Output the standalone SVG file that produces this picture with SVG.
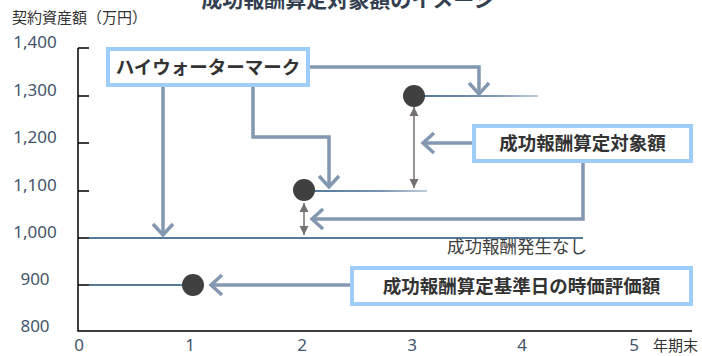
<svg xmlns="http://www.w3.org/2000/svg" width="702" height="356" viewBox="0 0 702 356">
<style>
.jp{font-family:"Noto Sans CJK JP","Noto Sans",sans-serif}
.num{font-family:"Noto Sans","Liberation Sans",sans-serif;font-size:17px;fill:#44546a;text-anchor:middle}
.box{fill:#fff;stroke:#9fcdfa;stroke-width:4}
.boxt{font-family:"Noto Sans CJK JP",sans-serif;font-size:18.5px;font-weight:bold;fill:#333;text-anchor:middle}
.conn{fill:none;stroke:#8497b0;stroke-width:3.5;stroke-linejoin:miter}
.dbl{fill:none;stroke:#767171;stroke-width:1.5}
.dot{fill:#404040}
.axis{stroke:#000;stroke-width:1.5;fill:none}
.lvl{stroke:#1f4e79;stroke-width:1.5}
</style>
<defs>
<marker id="chev" viewBox="-15 -15 30 30" markerWidth="30" markerHeight="30" refX="0" refY="0" orient="auto" markerUnits="userSpaceOnUse">
<path d="M-11,-10 L0,0 L-11,10" fill="none" stroke="#8497b0" stroke-width="3.5"/>
</marker>
<marker id="tri" viewBox="-10 -6 12 12" markerWidth="12" markerHeight="12" refX="0" refY="0" orient="auto-start-reverse" markerUnits="userSpaceOnUse">
<path d="M-9,-4.5 L0,0 L-9,4.5 Z" fill="#767171"/>
</marker>
<linearGradient id="fade" x1="0" y1="0" x2="1" y2="0">
<stop offset="0" stop-color="#1f4e79"/>
<stop offset="0.6" stop-color="#4f7399"/>
<stop offset="1" stop-color="#a9bdd3"/>
</linearGradient>
</defs>

<text class="jp" x="348" y="7" font-size="21" font-weight="bold" fill="#333f50" text-anchor="middle">成功報酬算定対象額のイメージ</text>
<text class="jp" x="12" y="23" font-size="15" fill="#333">契約資産額（万円）</text>

<g id="axes">
<path class="axis" d="M78,48 V331 H692"/>
<path class="axis" d="M78,48 H89 M78,96 H89 M78,143 H89 M78,191 H89 M78,238 H89 M78,285 H89"/>
<text class="num" x="35" y="48">1,400</text>
<text class="num" x="35" y="96">1,300</text>
<text class="num" x="35" y="143">1,200</text>
<text class="num" x="35" y="191">1,100</text>
<text class="num" x="35" y="238">1,000</text>
<text class="num" x="35" y="285">900</text>
<text class="num" x="35" y="332">800</text>
<text class="num" x="79" y="351">0</text>
<text class="num" x="190" y="351">1</text>
<text class="num" x="302" y="351">2</text>
<text class="num" x="412" y="351">3</text>
<text class="num" x="522" y="351">4</text>
<text class="num" x="634" y="351">5</text>
<text class="jp" x="653" y="351" font-size="15" fill="#333">年期末</text>
</g>

<g id="levels">
<line class="lvl" x1="89" y1="238" x2="583" y2="238"/>
<line class="lvl" x1="89" y1="285" x2="185" y2="285"/>
<rect x="314" y="190.25" width="113" height="1.5" fill="url(#fade)"/>
<rect x="424" y="95.25" width="114" height="1.5" fill="url(#fade)"/>
<text class="jp" x="447" y="253" font-size="17.5" fill="#404040">成功報酬発生なし</text>
</g>

<g id="dot-yr1"><circle class="dot" cx="193" cy="285" r="11"/></g>
<g id="dot-yr2"><circle class="dot" cx="304" cy="190" r="11"/></g>
<g id="dot-yr3"><circle class="dot" cx="414" cy="96" r="11"/></g>

<g id="hwm">
<rect class="box" x="108" y="49" width="200" height="36"/>
<text class="boxt" x="208" y="74">ハイウォーターマーク</text>
</g>
<g id="target">
<rect class="box" x="474" y="126" width="217" height="35"/>
<text class="boxt" x="582.5" y="150">成功報酬算定対象額</text>
</g>
<g id="valuation">
<rect class="box" x="352" y="268" width="339" height="36"/>
<text class="boxt" x="521.5" y="293">成功報酬算定基準日の時価評価額</text>
</g>

<g id="connectors">
<path class="conn" d="M310,67 H479 V94" marker-end="url(#chev)"/>
<path class="conn" d="M163,87 V235" marker-end="url(#chev)"/>
<path class="conn" d="M253,87 V137 H329 V187" marker-end="url(#chev)"/>
<path class="conn" d="M472,143 H423" marker-end="url(#chev)"/>
<path class="conn" d="M583,163 V219 H312" marker-end="url(#chev)"/>
<path class="conn" d="M350,285 H211" marker-end="url(#chev)"/>
<line class="dbl" x1="304" y1="203" x2="304" y2="235" marker-start="url(#tri)" marker-end="url(#tri)"/>
<line class="dbl" x1="414" y1="107" x2="414" y2="188" marker-start="url(#tri)" marker-end="url(#tri)"/>
</g>
</svg>
